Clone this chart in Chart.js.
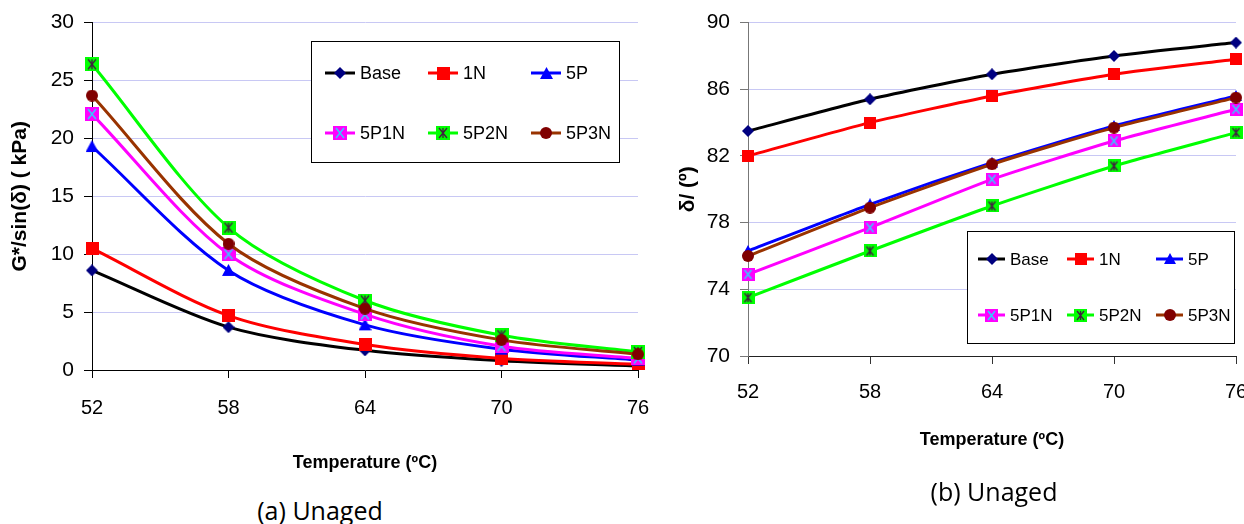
<!DOCTYPE html>
<html>
<head>
<meta charset="utf-8">
<script src="https://cdn.jsdelivr.net/npm/chart.js@4.4.0/dist/chart.umd.min.js"></script>
<style>
  html, body { margin: 0; padding: 0; background: #fff; overflow: hidden; }
  body { width: 1244px; height: 524px; position: relative; }
  canvas { position: absolute; top: 0; }
  #leftChart { left: 0; }
  #rightChart { left: 660px; }
  .caption { position: absolute; font-family: 'Open Sans', 'Noto Sans', sans-serif; font-size: 25px; line-height: 26px; text-align: center; color: #000; }
</style>
</head>
<body>
<canvas id="leftChart" width="660" height="480"></canvas>
<canvas id="rightChart" width="600" height="480"></canvas>
<div class="caption" style="left:220px; top:497px; width:200px;">(a) Unaged</div>
<div class="caption" style="left:894px; top:478px; width:200px;">(b) Unaged</div>
<script>
const temps = [52, 58, 64, 70, 76];
const seriesNames = ["Base", "1N", "5P", "5P1N", "5P2N", "5P3N"];

// G*/sin(delta), kPa
const gBase = [8.6, 3.7, 1.7, 0.8, 0.35];
const g1N = [10.5, 4.7, 2.2, 1.0, 0.5];
const g5P = [19.3, 8.6, 3.9, 1.8, 0.85];
const g5P1N = [22.1, 10.0, 4.8, 2.05, 1.0];
const g5P2N = [26.4, 12.3, 6.0, 3.0, 1.55];
const g5P3N = [23.7, 10.9, 5.3, 2.6, 1.35];

// phase angle delta, degrees
const dBase = [83.5, 85.4, 86.9, 88.0, 88.8];
const d1N = [82.0, 84.0, 85.6, 86.9, 87.8];
const d5P = [76.3, 79.1, 81.6, 83.8, 85.6];
const d5P1N = [74.9, 77.7, 80.6, 82.9, 84.8];
const d5P2N = [73.5, 76.3, 79.0, 81.4, 83.4];
const d5P3N = [76.0, 78.9, 81.5, 83.7, 85.5];

const lineColors = ['#000000', '#ff0000', '#0000ff', '#ff00ff', '#00ff00', '#993300'];

const arial = "'Liberation Sans', Arial, sans-serif";

// little canvases used as point styles
function makeMarker(kind, s) {
    const c = document.createElement('canvas');
    c.width = s; c.height = s;
    const m = c.getContext('2d');
    const h = s / 2;
    if (kind === 'diamond') {
        m.fillStyle = '#000080';
        m.beginPath();
        m.moveTo(h, 0); m.lineTo(s, h); m.lineTo(h, s); m.lineTo(0, h);
        m.closePath(); m.fill();
    } else if (kind === 'square') {
        m.fillStyle = '#ff0000';
        m.fillRect(0, 0, s, s);
    } else if (kind === 'triangle') {
        m.fillStyle = '#0000ff';
        m.beginPath();
        m.moveTo(h, 0); m.lineTo(s, s - 1); m.lineTo(0, s - 1);
        m.closePath(); m.fill();
    } else if (kind === 'pinkX') {
        m.fillStyle = '#ff00ff';
        m.fillRect(0, 0, s, s);
        m.strokeStyle = '#33ccff';
        m.lineWidth = 1.5;
        m.beginPath();
        m.moveTo(3, 2); m.lineTo(s - 3, s - 2);
        m.moveTo(s - 3, 2); m.lineTo(3, s - 2);
        m.stroke();
    } else if (kind === 'greenStar') {
        m.fillStyle = '#00ff00';
        m.fillRect(0, 0, s, s);
        m.strokeStyle = '#402040';
        m.lineWidth = 1.3;
        m.beginPath();
        m.moveTo(3, 2); m.lineTo(s - 3, s - 2);
        m.moveTo(s - 3, 2); m.lineTo(3, s - 2);
        m.moveTo(h, 2); m.lineTo(h, s - 2);
        m.stroke();
    } else if (kind === 'circle') {
        m.fillStyle = '#800000';
        m.beginPath();
        m.arc(h, h, h, 0, Math.PI * 2);
        m.fill();
    }
    return c;
}

function markerSet(big) {
    return [
        makeMarker('diamond', 12),
        makeMarker('square', big ? 13 : 12),
        makeMarker('triangle', big ? 13 : 12),
        makeMarker('pinkX', big ? 14 : 13),
        makeMarker('greenStar', big ? 14 : 13),
        makeMarker('circle', 12),
    ];
}

function buildDatasets(series, markers, tension) {
    return series.map((vals, i) => ({
        label: seriesNames[i],
        data: vals,
        borderColor: lineColors[i],
        backgroundColor: lineColors[i],
        borderWidth: 3,
        pointStyle: markers[i],
        tension: tension,
        fill: false,
        order: series.length - i,
    }));
}

// framed legend box drawn inside the plot, like the original figure
const legendBox = {
    id: 'legendBox',
    afterDatasetsDraw(chart, args, opts) {
        const ctx = chart.ctx;
        ctx.save();
        ctx.fillStyle = '#fff';
        ctx.fillRect(opts.x, opts.y, opts.w, opts.h);
        ctx.strokeStyle = '#000';
        ctx.lineWidth = 1;
        ctx.strokeRect(opts.x + 0.5, opts.y + 0.5, opts.w, opts.h);
        ctx.font = opts.fontSize + 'px ' + arial;
        ctx.textBaseline = 'middle';
        ctx.fillStyle = '#000';
        chart.data.datasets.forEach((ds, i) => {
            const lx = opts.x + opts.colX[i % 3];
            const ly = opts.y + opts.rowY[Math.floor(i / 3)];
            ctx.strokeStyle = ds.borderColor;
            ctx.lineWidth = 3;
            ctx.beginPath();
            ctx.moveTo(lx, ly);
            ctx.lineTo(lx + opts.lineW, ly);
            ctx.stroke();
            const img = ds.pointStyle;
            ctx.drawImage(img, Math.round(lx + opts.lineW / 2 - img.width / 2), Math.round(ly - img.height / 2));
            ctx.fillText(ds.label, lx + opts.lineW + opts.gap, ly + 1);
        });
        ctx.restore();
    }
};

Chart.register(legendBox);

const leftConfig = {
    type: 'line',
    data: {
        labels: temps,
        datasets: buildDatasets([gBase, g1N, g5P, g5P1N, g5P2N, g5P3N], markerSet(true), 0.3),
    },
    options: {
        responsive: false,
        animation: false,
        layout: { padding: { left: 0, top: 22, right: 22, bottom: 0 } },
        scales: {
            x: {
                type: 'category',
                offset: false,
                afterFit: (scale) => { scale.height = 110; },
                grid: { drawOnChartArea: false, drawTicks: true, tickLength: 8, tickColor: '#000' },
                border: { color: '#000', width: 1 },
                ticks: { color: '#000', padding: 4, font: { family: arial, size: 20, lineHeight: 2.6 }, maxRotation: 0 },
                title: {
                    display: true,
                    text: 'Temperature (ºC)',
                    color: '#000',
                    font: { family: arial, size: 18, weight: 'bold' },
                    padding: { top: 0, bottom: 6 },
                },
            },
            y: {
                min: 0,
                max: 30,
                afterFit: (scale) => { scale.width = 92; },
                grid: { color: '#c8c8f4', tickColor: '#000', tickLength: 8 },
                border: { color: '#000', width: 1 },
                ticks: { stepSize: 5, color: '#000', padding: 10, font: { family: arial, size: 21 } },
                title: {
                    display: true,
                    text: 'G*/sin(δ) ( kPa)',
                    color: '#000',
                    font: { family: arial, size: 21, weight: 'bold' },
                    padding: { top: 8, bottom: 0 },
                },
            },
        },
        plugins: {
            legend: { display: false },
            tooltip: { enabled: false },
            legendBox: { x: 311, y: 41, w: 308, h: 121, colX: [14, 117, 220], rowY: [32, 92], lineW: 30, gap: 5, fontSize: 18 },
        },
    },
};

const rightConfig = {
    type: 'line',
    data: {
        labels: temps,
        datasets: buildDatasets([dBase, d1N, d5P, d5P1N, d5P2N, d5P3N], markerSet(false), 0.2),
    },
    options: {
        responsive: false,
        animation: false,
        layout: { padding: { left: 0, top: 17, right: 24, bottom: 0 } },
        scales: {
            x: {
                type: 'category',
                offset: false,
                afterFit: (scale) => { scale.height = 124; },
                grid: { drawOnChartArea: false, drawTicks: true, tickLength: 8, tickColor: '#333' },
                border: { color: '#222', width: 1 },
                ticks: { color: '#000', padding: 4, font: { family: arial, size: 20, lineHeight: 2.4 }, maxRotation: 0 },
                title: {
                    display: true,
                    text: 'Temperature (ºC)',
                    color: '#000',
                    font: { family: arial, size: 18, weight: 'bold' },
                    padding: { top: 0, bottom: 29 },
                },
            },
            y: {
                min: 70,
                max: 90,
                afterFit: (scale) => { scale.width = 88; },
                grid: { color: '#c8c8f4', tickColor: '#777', tickLength: 8 },
                border: { color: '#777', width: 1 },
                ticks: { stepSize: 4, color: '#000', padding: 10, font: { family: arial, size: 21 } },
                title: {
                    display: true,
                    text: 'δ/ (º)',
                    color: '#000',
                    font: { family: arial, size: 21, weight: 'bold' },
                    padding: { top: 16, bottom: 0 },
                },
            },
        },
        plugins: {
            legend: { display: false },
            tooltip: { enabled: false },
            legendBox: { x: 307, y: 231, w: 267, h: 112, colX: [11, 100, 189], rowY: [28, 84], lineW: 27, gap: 5, fontSize: 17 },
        },
    },
};

const leftChart = new Chart(document.getElementById('leftChart').getContext('2d'), leftConfig);
const rightChart = new Chart(document.getElementById('rightChart').getContext('2d'), rightConfig);
</script>
</body>
</html>
